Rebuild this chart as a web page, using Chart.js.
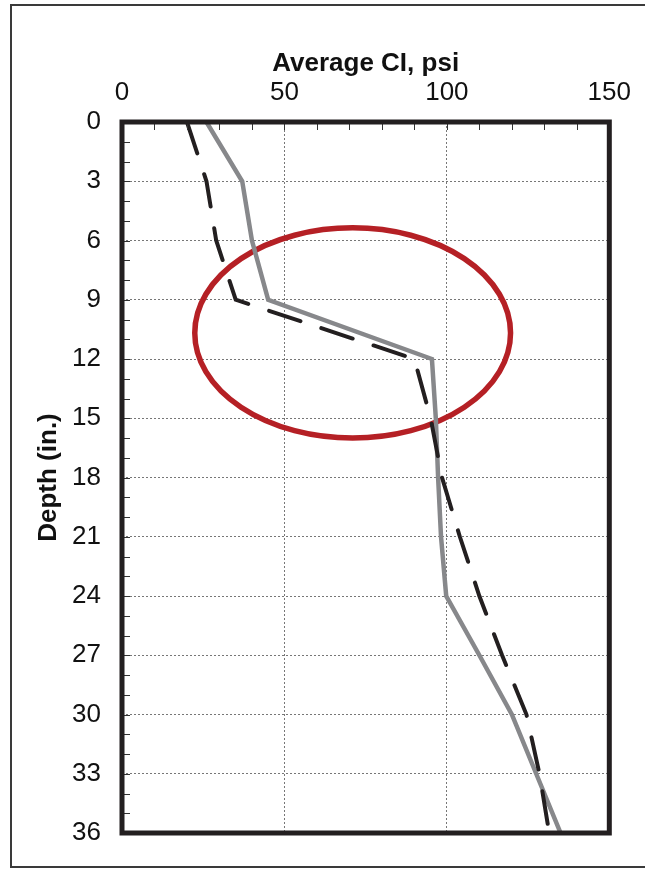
<!DOCTYPE html>
<html>
<head>
<meta charset="utf-8">
<script src="https://cdn.jsdelivr.net/npm/chart.js@4/dist/chart.umd.min.js"></script>
<style>
    html, body { margin: 0; padding: 0; background: #fff; }
    #wrap { width: 645px; height: 871px; position: relative; }
</style>
</head>
<body>
<div id="wrap"><canvas id="c"></canvas></div>
<script>
// Depth (in.) and average cone index (psi)
const depths = [0, 3, 6, 9, 12, 15, 18, 21, 24, 27, 30, 33, 36];
const ciSolid = [26, 37, 40, 45, 95.4, 96.6, 97.3, 98.2, 99.8, 110, 120, 127.5, 135];
const ciDashed = [20, 26, 29, 35, 90, 95, 98.5, 104, 110, 117, 124.5, 128.5, 131.5];

const xTicks = [0, 50, 100, 150];
const yTicks = [0, 3, 6, 9, 12, 15, 18, 21, 24, 27, 30, 33, 36];

// Red ellipse marking the 9-12 in. transition (data units)
const ellipseCenter = [71, 10.68];
const ellipseRadius = [48.6, 5.32];

const FONT = '"Liberation Sans", Arial, Helvetica, sans-serif';

const toPoints = (xs) => xs.map((v, i) => ({ x: v, y: depths[i] }));

// Frame, inward minor ticks and the ellipse
const decorations = {
    id: 'decorations',
    beforeDatasetsDraw(chart) {
        const { ctx, scales: { x, y } } = chart;
        ctx.save();
        // ellipse under the lines
        const cx = x.getPixelForValue(ellipseCenter[0]);
        const cy = y.getPixelForValue(ellipseCenter[1]);
        const rx = x.getPixelForValue(ellipseCenter[0] + ellipseRadius[0]) - cx;
        const ry = y.getPixelForValue(ellipseCenter[1] + ellipseRadius[1]) - cy;
        ctx.strokeStyle = '#b52025';
        ctx.lineWidth = 5.5;
        ctx.beginPath();
        ctx.ellipse(cx, cy, rx, Math.abs(ry), 0, 0, Math.PI * 2);
        ctx.stroke();
        ctx.restore();
    },
    afterDraw(chart) {
        const { ctx, chartArea: a, scales: { x, y } } = chart;
        ctx.save();
        // minor ticks pointing inward
        ctx.strokeStyle = '#333';
        ctx.lineWidth = 1;
        ctx.beginPath();
        for (let v = 10; v < 150; v += 10) {
            const px = Math.round(x.getPixelForValue(v)) + 0.5;
            ctx.moveTo(px, a.top);
            ctx.lineTo(px, a.top + 8);
        }
        for (let d = 1; d < 36; d += 1) {
            const py = Math.round(y.getPixelForValue(d)) + 0.5;
            ctx.moveTo(a.left, py);
            ctx.lineTo(a.left + 8, py);
        }
        ctx.stroke();
        // plot frame
        ctx.strokeStyle = '#231f20';
        ctx.lineWidth = 5;
        ctx.strokeRect(a.left, a.top, a.right - a.left, a.bottom - a.top);
        // outer figure border
        ctx.strokeStyle = '#3a3a3a';
        ctx.lineWidth = 2;
        ctx.strokeRect(11, 5, 660, 862);
        ctx.restore();
    }
};

new Chart(document.getElementById('c'), {
    type: 'scatter',
    data: {
        datasets: [
            {
                label: 'dashed',
                data: toPoints(ciDashed),
                showLine: true,
                borderColor: '#231f20',
                borderWidth: 4,
                borderDash: [33, 22],
                borderCapStyle: 'round',
                pointRadius: 0,
                tension: 0
            },
            {
                label: 'solid',
                data: toPoints(ciSolid),
                showLine: true,
                borderColor: '#87888b',
                borderWidth: 4.5,
                pointRadius: 0,
                tension: 0
            }
        ]
    },
    options: {
        responsive: true,
        maintainAspectRatio: false,
        animation: false,
        layout: { padding: { left: 0, top: 0, right: 34, bottom: 38 } },
        plugins: {
            legend: { display: false },
            tooltip: { enabled: false }
        },
        scales: {
            x: {
                type: 'linear',
                position: 'top',
                min: 0,
                max: 150,
                afterFit(scale) { scale.height = 122; },
                afterBuildTicks(scale) { scale.ticks = xTicks.map(v => ({ value: v })); },
                ticks: {
                    color: '#111',
                    padding: 14,
                    font: { family: FONT, size: 26 }
                },
                grid: { color: '#777', lineWidth: 1, drawTicks: false },
                border: { display: false, dash: [2, 2] },
                title: {
                    display: true,
                    text: 'Average CI, psi',
                    color: '#111',
                    padding: { top: 48, bottom: 0 },
                    font: { family: FONT, size: 26, weight: 'bold' }
                }
            },
            y: {
                type: 'linear',
                reverse: true,
                min: 0,
                max: 36,
                afterFit(scale) { scale.width = 122; },
                afterBuildTicks(scale) { scale.ticks = yTicks.map(v => ({ value: v })); },
                ticks: {
                    color: '#111',
                    padding: 21,
                    font: { family: FONT, size: 26 }
                },
                grid: { color: '#777', lineWidth: 1, drawTicks: false },
                border: { display: false, dash: [2, 2] },
                title: {
                    display: true,
                    text: 'Depth (in.)',
                    color: '#111',
                    padding: { top: 33, bottom: 0 },
                    font: { family: FONT, size: 26, weight: 'bold' }
                }
            }
        }
    },
    plugins: [decorations]
});
</script>
</body>
</html>
